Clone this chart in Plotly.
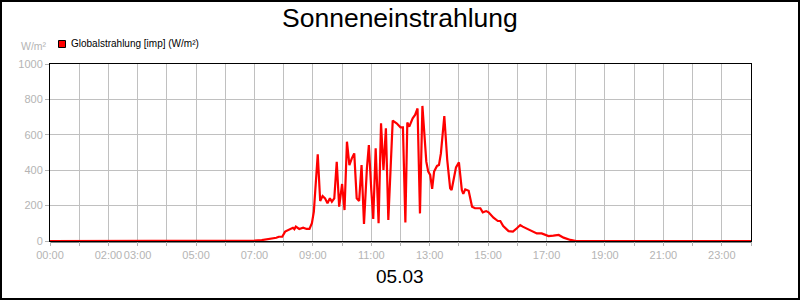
import plotly.graph_objects as go

# ---- data ----
times = ["00:00", "06:50", "07:00", "07:15", "07:30", "07:45", "07:50", "07:57", "08:03",
         "08:13", "08:19", "08:22", "08:25", "08:32", "08:40", "08:47", "08:53", "08:58",
         "09:02", "09:10", "09:15", "09:20", "09:25", "09:30", "09:35", "09:39", "09:44",
         "09:49", "09:54", "10:00", "10:05", "10:10", "10:15", "10:20", "10:25", "10:30",
         "10:35", "10:40", "10:45", "10:51", "10:55", "11:00", "11:04", "11:09", "11:15",
         "11:20", "11:25", "11:30", "11:35", "11:44", "11:52", "12:00", "12:05", "12:10",
         "12:14", "12:18", "12:25", "12:30", "12:35", "12:40", "12:45", "12:53", "12:57",
         "13:01", "13:05", "13:09", "13:15", "13:19", "13:23", "13:30", "13:36", "13:42",
         "13:45", "13:54", "14:00", "14:06", "14:09", "14:13", "14:20", "14:27", "14:33",
         "14:44", "14:49", "14:56", "15:01", "15:11", "15:20", "15:25", "15:31", "15:42",
         "15:51", "15:59", "16:06", "16:11", "16:18", "16:30", "16:40", "16:50", "17:04",
         "17:14", "17:25", "17:35", "17:49", "18:01", "24:00"]
values = [0, 0, 2, 5, 10, 18, 24, 24, 53,
          66, 75, 67, 81, 68, 75, 68, 68, 100,
          166, 490, 226, 254, 241, 213, 241, 222, 241,
          448, 194, 322, 175, 561, 429, 467, 495, 241,
          226, 429, 96, 411, 542, 288, 124, 524, 100,
          665, 401, 637, 119, 680, 665, 642, 642, 104,
          669, 646, 693, 712, 749, 156, 763, 448, 392,
          373, 294, 392, 424, 429, 495, 706, 458, 298,
          288, 416, 444, 288, 266, 292, 284, 194, 185,
          185, 162, 169, 162, 132, 113, 113, 85, 56,
          53, 72, 90, 81, 72, 53, 43, 43, 28,
          30, 34, 19, 6, 0, 0]
x_tick_hours = list(range(0, 25))
x_tick_labels = ["00:00", "", "02:00", "03:00", "", "05:00", "", "07:00", "", "09:00", "",
                 "11:00", "", "13:00", "", "15:00", "", "17:00", "", "19:00", "", "21:00",
                 "", "23:00", ""]
y_ticks = [0, 200, 400, 600, 800, 1000]
title_text = "Sonneneinstrahlung"
date_text = "05.03"
series_name = "Globalstrahlung [imp] (W/m²)"
unit_text = "W/m²"

hours = [int(t.split(":")[0]) + int(t.split(":")[1]) / 60 for t in times]

fig = go.Figure()
fig.add_trace(go.Scatter(x=hours, y=values, mode="lines", name=series_name,
                         line=dict(color="#ff0000", width=2.2), showlegend=False,
                         cliponaxis=False))

L, R, T, B = 50, 49, 64, 59
PW, PH = 800 - L - R, 300 - T - B
def px(xp):
    return (xp - L) / PW
def py(yp):
    return (300 - B - yp) / PH

grey = "#b4b4b4"
font = "Liberation Sans, Arial, sans-serif"

fig.update_layout(
    width=800, height=300,
    margin=dict(l=L, r=R, t=T, b=B, pad=0),
    paper_bgcolor="white", plot_bgcolor="white",
    font=dict(family=font),
    xaxis=dict(range=[0, 24], tickvals=x_tick_hours, ticktext=x_tick_labels,
               tickangle=0,
               showgrid=True, gridcolor="#c0c0c0", gridwidth=1,
               ticks="outside", ticklen=4, tickcolor=grey,
               tickfont=dict(size=11, color=grey),
               showline=True, linecolor="black", linewidth=1, mirror=True,
               zeroline=False, fixedrange=True, layer="below traces"),
    yaxis=dict(range=[0, 1000], tickvals=y_ticks,
               showgrid=True, gridcolor="#c0c0c0", gridwidth=1,
               ticks="outside", ticklen=4, tickcolor=grey,
               tickfont=dict(size=11, color=grey),
               showline=True, linecolor="black", linewidth=1, mirror=True,
               zeroline=False, fixedrange=True, layer="below traces"),
    shapes=[
        dict(type="rect", xref="paper", yref="paper",
             x0=px(1), x1=px(799), y0=py(299), y1=py(1),
             line=dict(color="black", width=2), fillcolor="rgba(0,0,0,0)", layer="above"),
        dict(type="rect", xref="paper", yref="paper",
             x0=px(58.5), x1=px(65.5), y0=py(47.5), y1=py(40.5),
             line=dict(color="black", width=1), fillcolor="#ff0000"),
        dict(type="line", xref="paper", yref="paper",
             x0=0, x1=1, y0=py(242), y1=py(242), line=dict(color="black", width=1),
             layer="below"),
    ],
    annotations=[
        dict(text=title_text, xref="paper", yref="paper", x=px(400), y=py(18),
             xanchor="center", yanchor="middle", showarrow=False,
             font=dict(size=26.5, color="black", family=font)),
        dict(text=date_text, xref="paper", yref="paper", x=px(400), y=py(276),
             xanchor="center", yanchor="middle", showarrow=False,
             font=dict(size=19, color="black", family=font)),
        dict(text=series_name, xref="paper", yref="paper", x=px(69), y=py(44),
             xanchor="left", yanchor="middle", showarrow=False,
             font=dict(size=10, color="black", family=font)),
        dict(text=unit_text, xref="paper", yref="paper", x=px(49), y=py(46),
             xanchor="right", yanchor="middle", showarrow=False,
             font=dict(size=10.5, color=grey, family=font)),
    ],
)

fig.write_html("out.html")
